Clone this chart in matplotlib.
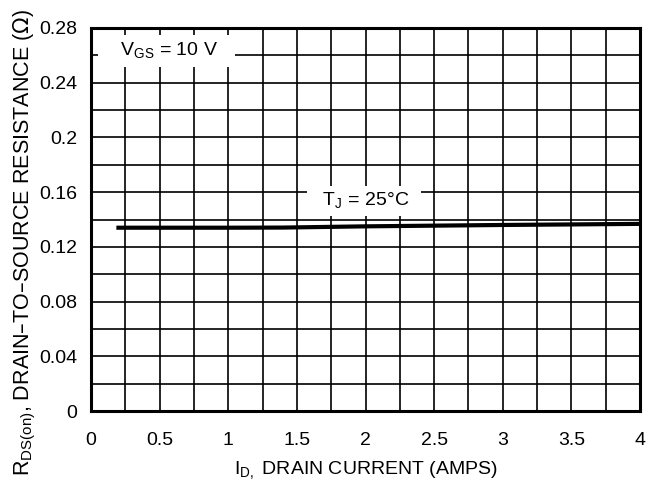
import matplotlib
matplotlib.use("Agg")
import matplotlib.pyplot as plt
import numpy as np

plt.rcParams['font.family'] = ['Liberation Sans', 'DejaVu Sans']

current = [0.2, 0.6, 1.0, 1.4, 2.0, 2.5, 3.0, 3.5, 4.0]
resistance = [0.1340, 0.1340, 0.1340, 0.1341, 0.1350, 0.1355, 0.1360, 0.1364, 0.1368]
xticks = [0, 0.5, 1, 1.5, 2, 2.5, 3, 3.5, 4]
xticklabels = ["0", "0.5", "1", "1.5", "2", "2.5", "3", "3.5", "4"]
yticks = [0, 0.04, 0.08, 0.12, 0.16, 0.2, 0.24, 0.28]
yticklabels = ["0", "0.04", "0.08", "0.12", "0.16", "0.2", "0.24", "0.28"]

fig = plt.figure(figsize=(6.55, 4.88), dpi=100)
ax = fig.add_axes([91/655, 1-411/488, 549/655, 383/488])
ax.set_xlim(0, 4)
ax.set_ylim(0, 0.28)

for xv in np.arange(0.25, 4.0, 0.25):
    ax.axvline(xv, color='black', lw=1.2, zorder=1)
for yv in np.arange(0.02, 0.28, 0.02):
    ax.axhline(yv, color='black', lw=1.2, zorder=1)

ax.plot(current, resistance, color='black', lw=3.0, zorder=3)

ax.set_xticks(xticks)
ax.set_xticklabels(xticklabels)
ax.set_yticks(yticks)
ax.set_yticklabels(yticklabels)
ax.tick_params(length=0, labelsize=14, pad=10)
ax.tick_params(axis='x', pad=15)
for s in ax.spines.values():
    s.set_linewidth(2.2)
    s.set_zorder(5)

ax.set_xlabel(r"I$_{\mathregular{D,}}$ DRAIN CURRENT (AMPS)", fontsize=14, labelpad=8)
ax.set_ylabel(r"R$_{\mathregular{DS(on)}}$, DRAIN–TO–SOURCE RESISTANCE ($\Omega$)", fontsize=15.5)
ax.yaxis.set_label_coords(-0.097, 0.44)

ax.text(0.095, 0.263, r"   V$_{\mathregular{GS}}$ = 10 V   ", fontsize=14, va='center', ha='left',
        bbox=dict(facecolor='white', edgecolor='none', pad=4), zorder=4)
ax.text(1.61, 0.1535, r"  T$_{\mathregular{J}}$ = 25°C  ", fontsize=14, va='center', ha='left',
        bbox=dict(facecolor='white', edgecolor='none', pad=3.6), zorder=4)

fig.savefig("out.png", dpi=100)
